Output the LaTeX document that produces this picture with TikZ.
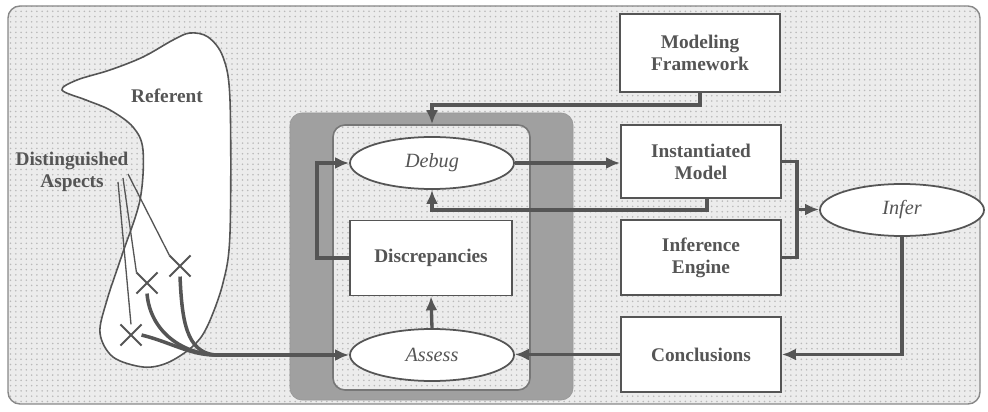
\documentclass[tikz,border=0pt]{standalone}
\usepackage{fontspec}
\setmainfont{Liberation Serif}
\usetikzlibrary{calc,shapes.geometric,shapes.misc,arrows.meta,patterns}

\definecolor{ink}{RGB}{85,85,85}
\definecolor{paper}{RGB}{236,236,236}
\definecolor{shade}{RGB}{160,160,160}

\begin{document}
\begin{tikzpicture}[x=0.2mm,y=-0.2mm,
                    dotted area/.style={preaction={fill=paper},pattern=dots,pattern color=gray!55},
                    box/.style={draw=ink,line width=1pt,fill=white,minimum width=3.2cm,minimum height=1.5cm,align=center,font=\bfseries\fontsize{11}{12.5}\selectfont,text=ink},
                    task/.style={ellipse,draw=ink,line width=1pt,fill=white,minimum width=3.28cm,minimum height=1.04cm,inner sep=0pt,font=\itshape\fontsize{11.5}{12.5}\selectfont,text=ink},
                    link/.style={draw=ink,line width=1.9pt},
                    flow/.style={link,-{Latex[length=2.8mm,width=2.4mm]}},
                    aspect/.style={cross out,draw=ink,line width=1.2pt,minimum size=3.8mm,inner sep=0pt},
                    pointer/.style={draw=ink,line width=0.75pt},
                    caption/.style={font=\bfseries\fontsize{11}{12.5}\selectfont,text=ink,align=center}]
            \useasboundingbox (0,0) rectangle (988,412);
            \draw[dotted area,draw=ink!70,line width=0.8pt,rounded corners=2.4mm] (8,6) rectangle (980,404);

            \draw[pointer,line width=0.9pt,fill=white] plot[smooth cycle,tension=0.55] coordinates {
                (62,90) (77,80) (110,70) (143,57) (173,40) (190,33) (208,37) (223,57) (230,100)
                (230,233) (223,283) (207,327) (192,347) (167,363) (143,367) (113,357) (100,333)
                (107,300) (122,255) (140,200) (143,150) (133,127) (110,110) (86,100)};
            \node[caption] (referent) at (167,96) {Referent};
            \node[caption] (aspects) at (72,172) {Distinguished\\Aspects};
            \node[aspect] (x1) at (131,335) {};
            \node[aspect] (x2) at (147,283) {};
            \node[aspect] (x3) at (180,266) {};
            \coordinate (fan a) at (118,182);
            \coordinate (fan b) at (123,178);
            \coordinate (fan c) at (128,174);
            \draw[pointer] (fan a) -- (x1.north);
            \draw[pointer] (fan b) -- (x2.north west);
            \draw[pointer] (fan c) -- (x3.north west);
            \coordinate (join) at (215,355);
            \draw[link,line width=2pt] (x1.east) .. controls (170,342) and (190,355) .. (join);
            \draw[link,line width=2pt] (x2.south) .. controls (150,330) and (180,353) .. (join);
            \draw[link,line width=2pt] (x3.south) .. controls (182,320) and (186,352) .. (join);

            \node[draw=ink!60,fill=shade,rounded corners=2.4mm,minimum width=5.66cm,minimum height=5.74cm] (loop) at (431.5,256.5) {};
            \node[draw=ink!80,line width=0.9pt,dotted area,rounded corners=2.4mm,minimum width=3.94cm,minimum height=5.3cm] (inner) at (431.5,257.5) {};
            \node[task] (debug) at (432,163) {Debug};
            \node[box,minimum width=3.24cm] (disc) at (431,258) {Discrepancies};
            \node[task] (assess) at (432,355) {Assess};

            \node[box,minimum height=1.56cm] (mf) at (700,53) {Modeling\\Framework};
            \node[box,minimum height=1.46cm] (im) at (701,161.5) {Instantiated\\Model};
            \node[box] (ie) at (701,257.5) {Inference\\Engine};
            \node[box] (concl) at (701,354.5) {Conclusions};
            \node[task] (infer) at (902,210) {Infer};

            \draw[flow] (join) -- (assess.west);
            \draw[flow] (assess.north) -- (disc.south);
            \draw[flow] (disc.west) -- ++(-32,0) |- (debug.west);
            \draw[flow] (mf.south) -- ++(0,12) -| (debug.north |- inner.north);
            \draw[flow] (debug.east) -- (debug.east -| im.west);
            \draw[flow] ($(im.south)+(6,0)$) -- ++(0,11) -| (debug.south);
            \draw[link] (im.east) -- ++(15,0) |- (ie.east);
            \coordinate (merge) at ($(im.east)!0.5!(ie.east)+(15,0)$);
            \draw[flow] (merge) -- (merge -| infer.west);
            \draw[flow] (infer.south) |- (concl.east);
            \draw[flow] (concl.west) -- (concl.west -| assess.east);
        \end{tikzpicture}
\end{document}
